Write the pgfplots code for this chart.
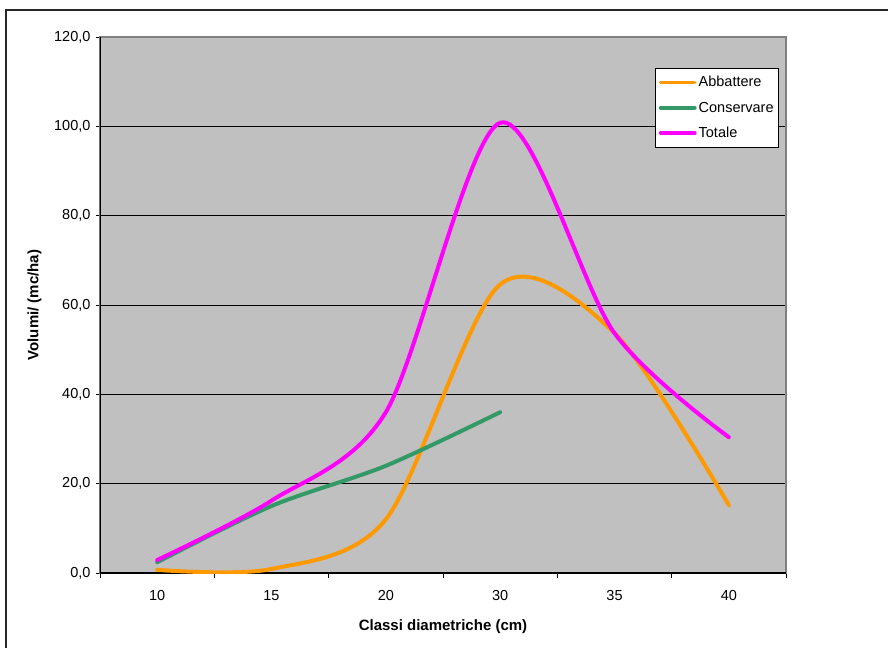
\documentclass[border=0pt]{standalone}
\usepackage{pgfplots}
\pgfplotsset{compat=1.18}
\usepackage{fontspec}
\setmainfont{Liberation Sans}

\definecolor{plotgray}{HTML}{C0C0C0}
\definecolor{framegray}{HTML}{808080}
\definecolor{abb}{HTML}{FF9900}
\definecolor{cons}{HTML}{339966}
\definecolor{tot}{HTML}{FF00FF}

% Volumes per diameter class (categories 10,15,20,30,35,40 at 0..5)
\pgfplotstableread{
x  y
0  0.7
1  0.9
2  12.0
3  64.6
4  53.7
5  15.2
}\abbattere
\pgfplotstableread{
x  y
0  2.4
1  15.0
2  24.0
3  36.0
}\conservare
\pgfplotstableread{
x  y
0  2.9
1  16.2
2  36.0
3  100.8
4  53.7
5  30.4
}\totale

\begin{document}
\begin{tikzpicture}[x=1pt,y=1pt]
\path[use as bounding box] (0,0) rectangle (888,648);
% chart frame
\draw[line width=1.4pt, black!85] (6,0) -- (6,638) -- (888,638);
\begin{axis}[
  at={(100pt,75pt)}, anchor=south west,
  scale only axis, width=686pt, height=536pt,
  xmin=-0.5, xmax=5.5, ymin=0, ymax=120,
  xtick={0,...,5}, xticklabels={10,15,20,30,35,40},
  minor xtick={-0.5,0.5,...,5.5},
  ytick={0,20,...,120},
  tick pos=left,
  major x tick style={draw=none},
  minor x tick style={black, line width=0.8pt},
  major y tick style={black, line width=0.8pt},
  tick align=outside, major tick length=4pt, minor tick length=5pt,
  ymajorgrids, grid style={black, line width=0.8pt},
  axis background/.style={fill=plotgray},
  axis line style={draw=framegray, line width=1.2pt},
  ticklabel style={font=\fontsize{14.5}{16}\selectfont},
  /pgf/number format/assume math mode=true,
  yticklabel style={/pgf/number format/.cd, fixed, fixed zerofill, precision=1, use comma},
  xticklabel shift=10pt,
  yticklabel shift=2pt,
  xlabel={Classi diametriche (cm)},
  xlabel style={at={(axis description cs:0.5,-0.1)}, anchor=center, font=\bfseries\fontsize{15}{17}\selectfont},
  ylabel={Volumi/ (mc/ha)},
  ylabel style={at={(axis description cs:-0.0955,0.5)}, anchor=center, font=\bfseries\fontsize{15}{17}\selectfont},
  legend style={at={(rel axis cs:0.9898,0.942)}, anchor=north east,
    draw=black, line width=0.8pt, fill=white,
    font=\fontsize{14.5}{16}\selectfont,
    inner xsep=3pt, inner ysep=6pt, row sep=9.5pt,
    cells={anchor=west}},
  legend image code/.code={\draw[#1, line width=3.8pt] (0pt,0pt) -- (34pt,0pt);},
  every axis plot/.append style={line width=4pt, smooth, tension=0.5, line join=round, line cap=round},
]
\draw[black, line width=1.2pt] (rel axis cs:0,1) -- (rel axis cs:0,0) -- (rel axis cs:1,0);
\addplot[abb] table {\abbattere};
\addlegendentry{Abbattere}
\addplot[cons] table {\conservare};
\addlegendentry{Conservare}
\addplot[tot] table {\totale};
\addlegendentry{Totale}
\end{axis}
\end{tikzpicture}
\end{document}
